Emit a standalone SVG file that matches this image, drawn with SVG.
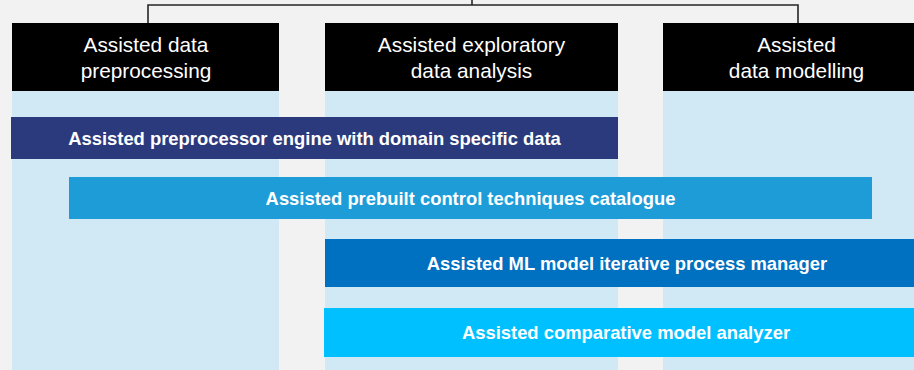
<svg xmlns="http://www.w3.org/2000/svg" width="914" height="370" viewBox="0 0 914 370">
<style>
.col{fill:#D1E8F5}
.hdr{fill:#000000}
.ht{fill:#FFFFFF;font-family:"Liberation Sans",Arial,sans-serif;font-size:20.8px;text-anchor:middle}
.bt{fill:#FFFFFF;font-family:"Liberation Sans",Arial,sans-serif;font-size:18.4px;font-weight:bold;text-anchor:middle}
.conn{fill:none;stroke:#262626;stroke-width:1.6}
</style>
<rect x="0" y="0" width="914" height="370" fill="#F2F2F2"/>
<g id="connectors">
<path class="conn" d="M472,0 V5 M148,23 V5 H798 V23"/>
</g>
<g id="col-preprocessing">
<rect class="col" x="12" y="91" width="267" height="279"/>
<rect class="hdr" x="12" y="23" width="267" height="68"/>
<text class="ht" x="146" y="52">Assisted data</text>
<text class="ht" x="146" y="78">preprocessing</text>
</g>
<g id="col-eda">
<rect class="col" x="325" y="91" width="293" height="279"/>
<rect class="hdr" x="325" y="23" width="293" height="68"/>
<text class="ht" x="471.5" y="52">Assisted exploratory</text>
<text class="ht" x="471.5" y="78">data analysis</text>
</g>
<g id="col-modelling">
<rect class="col" x="663" y="91" width="267" height="279"/>
<rect class="hdr" x="663" y="23" width="267" height="68"/>
<text class="ht" x="796.5" y="52">Assisted</text>
<text class="ht" x="796.5" y="78">data modelling</text>
</g>
<g id="bar-preprocessor-engine">
<rect x="11" y="117" width="607" height="42" fill="#2B3A7D"/>
<text class="bt" x="314.5" y="145">Assisted preprocessor engine with domain specific data</text>
</g>
<g id="bar-control-catalogue">
<rect x="69" y="177" width="803" height="42" fill="#1E9CD8"/>
<text class="bt" x="470.5" y="205">Assisted prebuilt control techniques catalogue</text>
</g>
<g id="bar-ml-manager">
<rect x="325" y="239" width="605" height="48" fill="#0070C0"/>
<text class="bt" x="627" y="270">Assisted ML model iterative process manager</text>
</g>
<g id="bar-comparative">
<rect x="324" y="308" width="606" height="49" fill="#00C0FF"/>
<text class="bt" x="626" y="339">Assisted comparative model analyzer</text>
</g>
</svg>
